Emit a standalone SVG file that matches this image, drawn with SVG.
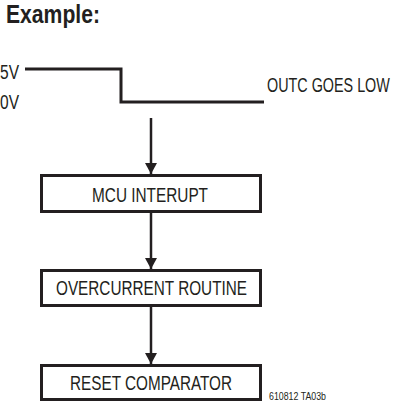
<svg xmlns="http://www.w3.org/2000/svg" width="396" height="402" viewBox="0 0 396 402">
<style>
text{font-family:"Liberation Sans",Arial,sans-serif;fill:#231f20}
.lbl{font-size:19.5px}
.box{fill:#fff;stroke:#231f20;stroke-width:3}
.wire{fill:none;stroke:#231f20;stroke-width:3}
.conn{stroke:#231f20;stroke-width:2.5;fill:none}
</style>
<defs>
<marker id="ah" markerUnits="userSpaceOnUse" markerWidth="12" markerHeight="12" refX="11" refY="6" orient="auto">
<path d="M0,0 L11,6 L0,12 z" fill="#231f20"/>
</marker>
</defs>
<rect width="396" height="402" fill="#fff"/>
<text x="6" y="23" font-size="25.5" font-weight="bold" textLength="94" lengthAdjust="spacingAndGlyphs">Example:</text>
<g id="waveform">
<text class="lbl" x="0" y="79" textLength="19" lengthAdjust="spacingAndGlyphs">5V</text>
<text class="lbl" x="0" y="109" textLength="19" lengthAdjust="spacingAndGlyphs">0V</text>
<polyline class="wire" points="25,69 121,69 121,102 264,102"/>
<text class="lbl" transform="translate(267,92) scale(0.737,1)" x="0" y="0">OUTC GOES LOW</text>
</g>
<g id="connectors">
<line class="conn" x1="151" y1="118" x2="151" y2="174" marker-end="url(#ah)"/>
<line class="conn" x1="151" y1="213" x2="151" y2="269" marker-end="url(#ah)"/>
<line class="conn" x1="151" y1="307" x2="151" y2="364" marker-end="url(#ah)"/>
</g>
<g id="mcu-interupt">
<rect class="box" x="41.5" y="175.5" width="219" height="36"/>
<text class="lbl" x="92" y="202" textLength="116" lengthAdjust="spacingAndGlyphs">MCU INTERUPT</text>
</g>
<g id="overcurrent-routine">
<rect class="box" x="41.5" y="270.5" width="219" height="35"/>
<text class="lbl" x="56" y="295" textLength="191" lengthAdjust="spacingAndGlyphs">OVERCURRENT ROUTINE</text>
</g>
<g id="reset-comparator">
<rect class="box" x="41.5" y="365.5" width="219" height="34"/>
<text class="lbl" x="70" y="390" textLength="162" lengthAdjust="spacingAndGlyphs">RESET COMPARATOR</text>
</g>
<text x="269" y="400" font-size="10" textLength="57" lengthAdjust="spacingAndGlyphs">610812 TA03b</text>
</svg>
